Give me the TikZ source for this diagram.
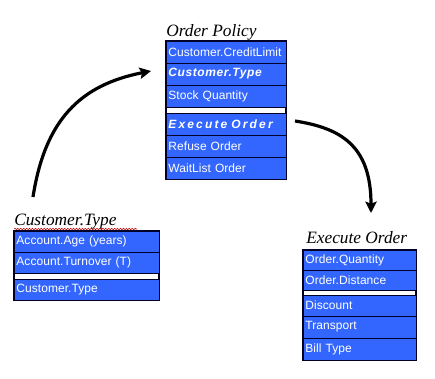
\documentclass[tikz,border=0pt]{standalone}
\usepackage{fontspec}
\setmainfont{Liberation Serif}
\newfontfamily\rowfont[LetterSpace=0.5]{Liberation Sans}
\newfontfamily\rowfontA[LetterSpace=5]{Liberation Sans}
\newfontfamily\rowfontB[LetterSpace=18]{Liberation Sans}
\usetikzlibrary{arrows.meta,decorations.pathmorphing,fit}
\definecolor{boxblue}{RGB}{51,102,255}
\definecolor{boxline}{RGB}{0,0,40}
\begin{document}
\begin{tikzpicture}[x=0.75pt,y=-0.75pt,
  row/.style={draw=boxline, line width=0.7pt, fill=boxblue, text=white,
    font=\rowfont\fontsize{9}{10}\selectfont, anchor=north west,
    inner xsep=1.8pt, inner ysep=0pt, outer sep=0pt, align=left},
  opw/.style={text width=86.4pt},
  ctw/.style={text width=105.15pt},
  eow/.style={text width=81.15pt},
  frame/.style={draw=boxline, line width=1pt, fill=white, inner sep=0pt},
  title/.style={anchor=base west, inner sep=0pt, font=\itshape\fontsize{13}{15}\selectfont},
  arr/.style={line width=2.4pt, -{Stealth[length=8.5pt,width=8.5pt,inset=1.5pt]}},
  bi/.style={font=\rowfontA\bfseries\itshape\fontsize{9}{10}\selectfont},
  bib/.style={font=\rowfontB\bfseries\itshape\fontsize{9}{10}\selectfont}]
\useasboundingbox (0,0) rectangle (435,378);

% ---------- Order Policy ----------
\node[title] (opt) at (166,37) {Order Policy};
\coordinate (opa) at (166,41);
\coordinate (opb) at (286,179);
\node[frame, fit=(opa)(opb)] (opf) {};
\node[row, opw, minimum height=16.5pt] (op1) at (166,41) {Customer.CreditLimit};
\node[row, opw, bi, minimum height=16.5pt] (op2) at (166,63) {Customer.Type};
\node[row, opw, minimum height=16.5pt] (op3) at (166,85) {Stock Quantity};
\node[row, opw, bib, minimum height=16.5pt] (op4) at (166,113) {Execute Order};
\node[row, opw, minimum height=16.5pt] (op5) at (166,135) {Refuse Order};
\node[row, opw, minimum height=16.5pt] (op6) at (166,157) {WaitList Order};
\draw[boxline, line width=1pt] (opf.north west) rectangle (opf.south east);

% ---------- Customer.Type ----------
\node[title] (ctt) at (14,225) {Customer.Type};
\draw[red!75!black, line width=0.4pt, decorate,
  decoration={snake, amplitude=0.55pt, segment length=2.2pt}] (14,229) -- (137,229);
\coordinate (cta) at (14,231);
\coordinate (ctb) at (159,300);
\node[frame, fit=(cta)(ctb)] (ctf) {};
\node[row, ctw, minimum height=15.75pt] (ct1) at (14,231) {Account.Age (years)};
\node[row, ctw, minimum height=15.75pt] (ct2) at (14,252) {Account.Turnover (T)};
\node[row, ctw, minimum height=15.75pt] (ct3) at (14,279) {Customer.Type};
\draw[boxline, line width=1pt] (ctf.north west) rectangle (ctf.south east);

% ---------- Execute Order ----------
\node[title] (eot) at (306,243) {Execute Order};
\coordinate (eoa) at (303,250);
\coordinate (eob) at (416,360);
\node[frame, fit=(eoa)(eob)] (eof) {};
\node[row, eow, minimum height=15pt] (eo1) at (303,250) {Order.Quantity};
\node[row, eow, minimum height=15pt] (eo2) at (303,270) {Order.Distance};
\node[row, eow, minimum height=15.75pt] (eo3) at (303,295) {Discount};
\node[row, eow, minimum height=16.5pt] (eo4) at (303,316) {Transport};
\node[row, eow, minimum height=16.5pt] (eo5) at (303,338) {Bill Type};
\draw[boxline, line width=1pt] (eof.north west) rectangle (eof.south east);

% ---------- arrows ----------
\coordinate (a1s) at (33,197);
\coordinate (a1e) at (151,71);
\draw[arr] (a1s) .. controls (45,120) and (80,85) .. (a1e);
\coordinate (a2s) at (295,121);
\coordinate (a2e) at (371,213);
\draw[arr] (a2s) .. controls (340,128) and (371,145) .. (a2e);
\end{tikzpicture}
\end{document}
